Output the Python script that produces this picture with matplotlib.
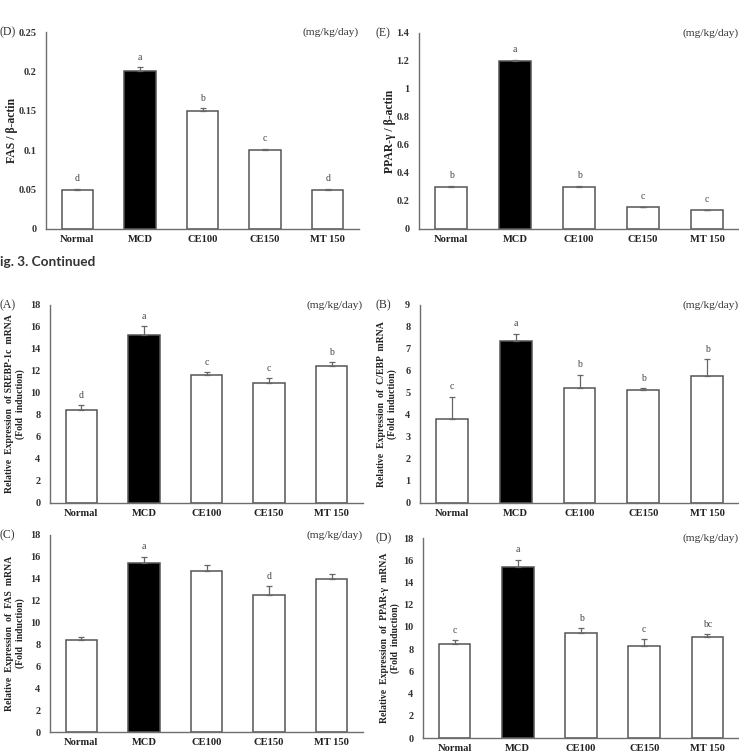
import matplotlib
matplotlib.use("Agg")
import matplotlib.pyplot as plt

W, H = 739, 753

groups = ["Normal", "MCD", "CE100", "CE150", "MT 150"]

# (D) FAS / beta-actin protein
fas_prot = [0.05, 0.20, 0.15, 0.10, 0.05]
fas_prot_err = [0.001, 0.005, 0.003, 0.002, 0.001]
fas_prot_sig = ["d", "a", "b", "c", "d"]

# (E) PPAR-gamma / beta-actin protein
ppar_prot = [0.30, 1.20, 0.30, 0.155, 0.135]
ppar_prot_err = [0.008, 0.01, 0.008, 0.004, 0.003]
ppar_prot_sig = ["b", "a", "b", "c", "c"]

# (A) SREBP-1c mRNA
srebp = [8.5, 15.3, 11.6, 10.9, 12.5]
srebp_err = [0.4, 0.75, 0.3, 0.45, 0.3]
srebp_sig = ["d", "a", "c", "c", "b"]

# (B) C/EBP mRNA
cebp = [3.82, 7.36, 5.24, 5.14, 5.79]
cebp_err = [1.0, 0.33, 0.6, 0.07, 0.75]
cebp_sig = ["c", "a", "b", "b", "b"]

# (C) FAS mRNA
fas_mrna = [8.4, 15.4, 14.7, 12.5, 13.95]
fas_mrna_err = [0.3, 0.6, 0.55, 0.8, 0.45]
fas_mrna_sig = ["", "a", "", "d", ""]

# (D) PPAR-gamma mRNA
ppar_mrna = [8.46, 15.36, 9.43, 8.28, 9.07]
ppar_mrna_err = [0.35, 0.7, 0.45, 0.6, 0.27]
ppar_mrna_sig = ["c", "a", "b", "c", "bc"]

SERIF = ["Liberation Serif", "DejaVu Serif"]
AX_COL = "#6e6e6e"

fig = plt.figure(figsize=(W / 100, H / 100), dpi=100)


def add_panel(l, r, t, b, vals, errs, sig, ymax, ystep, ticklabels, ylabel,
              panel, ylab_x, plab_x, ylab_size=7):
    ax = fig.add_axes([l / W, 1 - b / H, (r - l) / W, (b - t) / H])
    x = list(range(len(groups)))
    colors = ["white", "black", "white", "white", "white"]
    ax.bar(x, vals, width=0.5, color=colors, edgecolor="#555555",
           linewidth=1.1, zorder=2)
    ax.errorbar(x, vals, yerr=[[0] * len(errs), errs], fmt="none",
                ecolor="#666666", elinewidth=0.9, capsize=2.2,
                capthick=0.9, zorder=3)
    for xi, v, e, s in zip(x, vals, errs, sig):
        if s:
            ax.annotate(s, (xi, v + e), xytext=(0, 4), textcoords="offset points",
                        ha="center", va="bottom", fontsize=7,
                        family=SERIF, color="#444444")
    ax.set_xlim(-0.5, len(groups) - 0.5)
    ax.set_ylim(0, ymax)
    ticks = [i * ystep for i in range(len(ticklabels))]
    ax.set_yticks(ticks)
    ax.set_yticklabels(ticklabels, family=SERIF, fontweight="bold",
                       fontsize=7.4, color="#333333")
    ax.set_xticks(x)
    ax.set_xticklabels(groups, family=SERIF, fontweight="bold",
                       fontsize=7.6, color="#222222")
    ax.tick_params(axis="y", length=0, pad=7)
    ax.tick_params(axis="x", length=0, pad=4)
    for sp in ["top", "right"]:
        ax.spines[sp].set_visible(False)
    for sp in ["left", "bottom"]:
        ax.spines[sp].set_color(AX_COL)
        ax.spines[sp].set_linewidth(1.0)
    ax.patch.set_alpha(0)
    # unit label
    fig.text(r / W, 1 - t / H, "(mg/kg/day)", ha="right", va="center",
             family=SERIF, fontsize=8.2, color="#333333")
    # panel label
    fig.text(plab_x / W, 1 - t / H, panel, ha="left", va="center",
             family=SERIF, fontsize=8.5, color="#333333")
    # y label
    fig.text(ylab_x / W, 1 - (t + b) / 2 / H, ylabel, rotation=90,
             ha="center", va="center", multialignment="center",
             family=SERIF, fontweight="bold", fontsize=ylab_size,
             color="#222222", linespacing=1.1)
    return ax


add_panel(46, 359, 32, 229, fas_prot, fas_prot_err, fas_prot_sig, 0.25, 0.05,
          ["0", "0.05", "0.1", "0.15", "0.2", "0.25"],
          "FAS / β-actin", "(D)", 12, 0, ylab_size=8.5)

add_panel(419, 739, 33, 229, ppar_prot, ppar_prot_err, ppar_prot_sig, 1.4, 0.2,
          ["0", "0.2", "0.4", "0.6", "0.8", "1", "1.2", "1.4"],
          "PPAR-γ / β-actin", "(E)", 390, 375, ylab_size=8.5)

fig.text(0 / W, 1 - 262 / H, "ig. 3. Continued", ha="left", va="center",
         family=["Lato", "DejaVu Sans"], fontweight="bold", fontsize=9.8,
         color="#333333")

lab18 = [str(v) for v in range(0, 19, 2)]
lab9 = [str(v) for v in range(0, 10)]

add_panel(50, 363, 305, 503, srebp, srebp_err, srebp_sig, 18, 2, lab18,
          "Relative  Expression  of SREBP-1c  mRNA\n(Fold  induction)",
          "(A)", 15, 0)

add_panel(420, 739, 305, 503, cebp, cebp_err, cebp_sig, 9, 1, lab9,
          "Relative  Expression  of  C/EBP  mRNA\n(Fold  induction)",
          "(B)", 387, 375)

add_panel(50, 363, 535, 732, fas_mrna, fas_mrna_err, fas_mrna_sig, 18, 2, lab18,
          "Relative  Expression  of  FAS  mRNA\n(Fold  induction)",
          "(C)", 15, 0)

add_panel(423, 739, 538, 738, ppar_mrna, ppar_mrna_err, ppar_mrna_sig, 18, 2, lab18,
          "Relative  Expression  of  PPAR-γ  mRNA\n(Fold  induction)",
          "(D)", 390, 375)

fig.savefig("out.png", dpi=100, facecolor="white")
